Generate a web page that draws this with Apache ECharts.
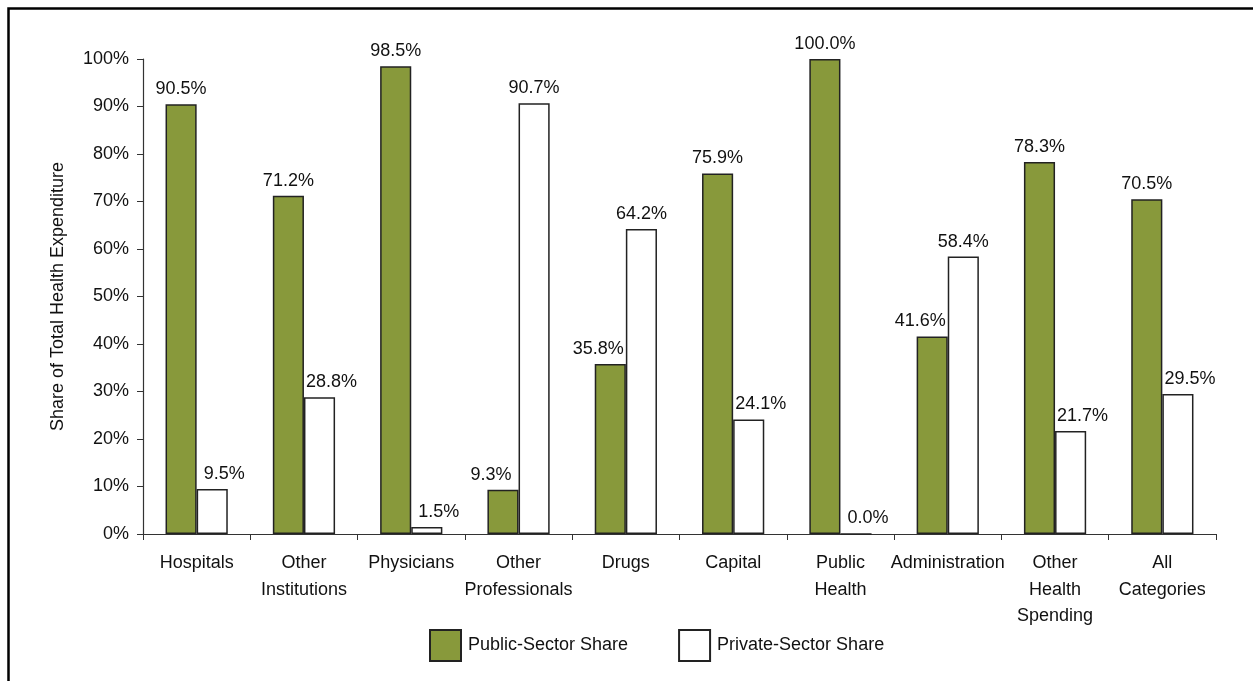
<!DOCTYPE html>
<html>
<head>
<meta charset="utf-8">
<script src="https://cdn.jsdelivr.net/npm/echarts@6/dist/echarts.min.js"></script>
<style>
html,body{margin:0;padding:0;background:#fff;}
#c{width:1253px;height:681px;}
</style>
</head>
<body>
<div id="c"></div>
<script>
var categories = ['Hospitals', 'Other\nInstitutions', 'Physicians', 'Other\nProfessionals', 'Drugs', 'Capital', 'Public\nHealth', 'Administration', 'Other\nHealth\nSpending', 'All\nCategories'];
var publicShare = [90.5, 71.2, 98.5, 9.3, 35.8, 75.9, 100.0, 41.6, 78.3, 70.5];
var privateShare = [9.5, 28.8, 1.5, 90.7, 64.2, 24.1, 0.0, 58.4, 21.7, 29.5];
var yTicks = [0, 10, 20, 30, 40, 50, 60, 70, 80, 90, 100];

var font = 'Liberation Sans, Arial, sans-serif';
var FS = 18;
var chart = echarts.init(document.getElementById('c'), null, {renderer: 'canvas'});
function labelCfg() {
  return {
    show: true, position: 'top', distance: 6,
    color: '#111', fontSize: FS, fontFamily: font,
    formatter: function (p) { return p.value.toFixed(1) + '%'; }
  };
}
// the shorter bar's label is nudged outward, away from the taller neighbour
function items(vals, other, dir) {
  return vals.map(function (v, i) {
    var o = v < other[i] ? dir * 12 : 0;
    return {value: v, label: {offset: [o, 0]}};
  });
}
chart.setOption({
  animation: false,
  backgroundColor: '#fff',
  graphic: [{
    type: 'rect', left: 6, top: 6, silent: true,
    shape: {x: 0, y: 0, width: 1400, height: 800},
    style: {fill: 'none', stroke: '#000', lineWidth: 2.5}
  }],
  grid: {left: 143, right: 37, top: 59, bottom: 147, containLabel: false},
  legend: {
    bottom: 19, left: 429, padding: 0, itemWidth: 31, itemHeight: 31, itemGap: 50, icon: 'rect',
    textStyle: {fontSize: FS, fontFamily: font, color: '#111', padding: [0, 0, 0, 2]},
    data: ['Public-Sector Share', 'Private-Sector Share']
  },
  xAxis: {
    type: 'category', data: categories,
    axisLine: {lineStyle: {color: '#333', width: 1.2}},
    axisTick: {show: true, length: 6, alignWithLabel: false, lineStyle: {color: '#333'}},
    axisLabel: {fontSize: FS, fontFamily: font, color: '#111', margin: 16, lineHeight: 26.5, interval: 0}
  },
  yAxis: {
    type: 'value', min: 0, max: 100, interval: 10,
    name: 'Share of Total Health Expenditure', nameLocation: 'middle', nameGap: 76, nameRotate: 90,
    nameTextStyle: {fontSize: FS, fontFamily: font, color: '#111'},
    splitLine: {show: false},
    axisLine: {show: true, lineStyle: {color: '#333', width: 1.2}},
    axisTick: {show: true, length: 6, lineStyle: {color: '#333'}},
    axisLabel: {fontSize: FS, fontFamily: font, color: '#111', margin: 14,
      formatter: function (v) { return yTicks.indexOf(v) >= 0 ? v + '%' : ''; }}
  },
  series: [{
    name: 'Public-Sector Share', type: 'bar', data: items(publicShare, privateShare, -1),
    barGap: '0%', barCategoryGap: '42%',
    itemStyle: {color: '#88993b', borderColor: '#222', borderWidth: 1.5},
    label: labelCfg()
  }, {
    name: 'Private-Sector Share', type: 'bar', data: items(privateShare, publicShare, 1),
    itemStyle: {color: '#fff', borderColor: '#222', borderWidth: 1.5},
    label: labelCfg()
  }]
});
</script>
</body>
</html>
